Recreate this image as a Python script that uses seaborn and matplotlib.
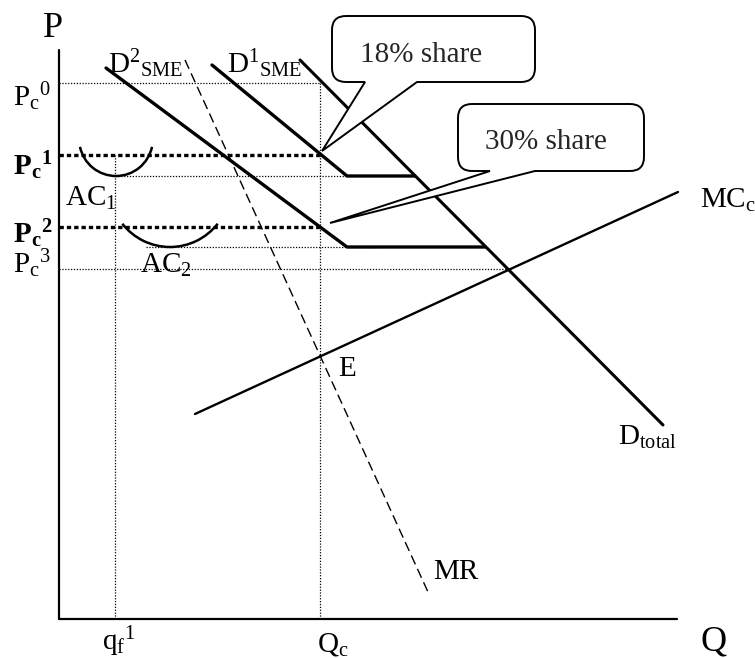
import matplotlib
matplotlib.use("Agg")
import matplotlib.pyplot as plt
import seaborn as sns
from matplotlib.patches import Arc, PathPatch
from matplotlib.path import Path

# ---------------- data (economic coordinates: Q to the right, P upward) ----------------
d2_sme_q = [47, 288, 426]
d2_sme_p = [551, 372, 372]
d1_sme_q = [153, 288, 356]
d1_sme_p = [554, 443, 443]
d_total_q = [241, 604]
d_total_p = [559, 194]
mc_q = [136, 619]
mc_p = [205, 427]
mr_q = [126, 369]
mr_p = [559, 27]

price_names = ["Pc0", "Pc1", "Pc2", "Pc3"]
price_values = [536, 464, 392, 350]
qc_value = 261
qf1_value = 56
pc3_q_end = 449
ac_names = ["AC1", "AC2"]
ac_min_p = [443, 372]
ac_min_q = [57, 111]
ac_radius = [36.8, 60.5]
ac_half_angle = [78, 52]

share_texts = ["18% share", "30% share"]

# ---------------- style ----------------
sns.set_theme(style="white")
plt.rcParams["font.family"] = ["Liberation Serif", "DejaVu Serif"]
plt.rcParams["mathtext.fontset"] = "custom"
plt.rcParams["mathtext.rm"] = "Liberation Serif"
plt.rcParams["mathtext.it"] = "Liberation Serif:italic"
plt.rcParams["mathtext.bf"] = "Liberation Serif:bold"

fig = plt.figure(figsize=(7.55, 6.58), dpi=100)
ax = fig.add_axes([0, 0, 1, 1])
ax.set_xlim(-59, 696)
ax.set_ylim(-39, 619)
ax.axis("off")

K = "black"


def draw(q, p, **kw):
    sns.lineplot(x=q, y=p, ax=ax, sort=False, estimator=None, legend=False,
                 color=K, **kw)


thin_dot = dict(lw=0.9, linestyle=(0, (1, 1.3)))
thick_dot = dict(lw=2.4, linestyle=(0, (1.3, 0.9)))

# axes
draw([0, 0], [569, 0], lw=1.6)
draw([0, 618], [0, 0], lw=1.6)

# guide lines
draw([0, qc_value], [price_values[0]] * 2, **thin_dot)
draw([qc_value, qc_value], [0, price_values[0]], **thin_dot)
draw([0, pc3_q_end], [price_values[3]] * 2, **thin_dot)
draw([qf1_value, qf1_value], [0, price_values[1]], **thin_dot)
draw([qf1_value, 288], [ac_min_p[0]] * 2, **thin_dot)
draw([87, 320], [ac_min_p[1]] * 2, **thin_dot)
draw([0, qc_value], [price_values[1]] * 2, **thick_dot)
draw([0, qc_value], [price_values[2]] * 2, **thick_dot)

# curves
draw(d2_sme_q, d2_sme_p, lw=2.4)
draw(d1_sme_q, d1_sme_p, lw=2.4)
draw(d_total_q, d_total_p, lw=2.2)
draw(mc_q, mc_p, lw=1.7)
draw(mr_q, mr_p, lw=1.0, linestyle=(0, (7, 3.6)))

# average cost arcs
for cq, pmin, r, h in zip(ac_min_q, ac_min_p, ac_radius, ac_half_angle):
    ax.add_patch(Arc((cq, pmin + r), 2 * r, 2 * r, theta1=270 - h, theta2=270 + h,
                     lw=1.8, color=K, zorder=3))


# callouts
def callout(x0, y0, x1, y1, b1, b2, tip, r=14):
    verts = [(x0 + r, y0), (b1, y0), tip, (b2, y0), (x1 - r, y0),
             (x1, y0), (x1, y0 + r), (x1, y1 - r), (x1, y1), (x1 - r, y1),
             (x0 + r, y1), (x0, y1), (x0, y1 - r), (x0, y0 + r), (x0, y0),
             (x0 + r, y0)]
    codes = [Path.MOVETO, Path.LINETO, Path.LINETO, Path.LINETO, Path.LINETO,
             Path.CURVE3, Path.CURVE3, Path.LINETO, Path.CURVE3, Path.CURVE3,
             Path.LINETO, Path.CURVE3, Path.CURVE3, Path.LINETO, Path.CURVE3,
             Path.CURVE3]
    ax.add_patch(PathPatch(Path(verts, codes), facecolor="white", edgecolor=K,
                           lw=1.4, zorder=5, joinstyle="miter"))


callout(273, 537, 476, 603, 306, 358, (263, 468))
callout(399, 448, 585, 515, 431, 476, (271, 396))
ax.text(301, 557, share_texts[0], fontsize=21, ha="left", va="baseline", zorder=6)
ax.text(426, 470, share_texts[1], fontsize=21, ha="left", va="baseline", zorder=6)

# labels
def label(x, y, s, fs=21):
    ax.text(x, y, s, fontsize=fs, ha="left", va="baseline", color=K, zorder=6)


label(-16, 582, "P", fs=26)
label(641, -31, "Q", fs=26)
label(43, -31, r"$\mathrm{q}_{\mathrm{f}}{}^{\mathrm{1}}$")
label(258, -33, r"$\mathrm{Q}_{\mathrm{c}}$")
label(49, 546, r"$\mathrm{D}^{\mathrm{2}}{}_{\mathrm{SME}}$")
label(168, 546, r"$\mathrm{D}^{\mathrm{1}}{}_{\mathrm{SME}}$")
label(-46, 513, r"$\mathrm{P}_{\mathrm{c}}{}^{\mathrm{0}}$")
label(-46, 444, r"$\mathbf{P}_{\mathbf{c}}{}^{\mathbf{1}}$")
label(-46, 376, r"$\mathbf{P}_{\mathbf{c}}{}^{\mathbf{2}}$")
label(-46, 346, r"$\mathrm{P}_{\mathrm{c}}{}^{\mathrm{3}}$")
label(6, 413, r"$\mathrm{AC}_{\mathrm{1}}$")
label(81, 346, r"$\mathrm{AC}_{\mathrm{2}}$")
label(279, 243, "E")
label(374, 40, "MR")
label(641, 411, r"$\mathrm{MC}_{\mathrm{c}}$")
label(559, 174, r"$\mathrm{D}_{\mathrm{total}}$")

fig.savefig("out.png", dpi=100, facecolor="white")
